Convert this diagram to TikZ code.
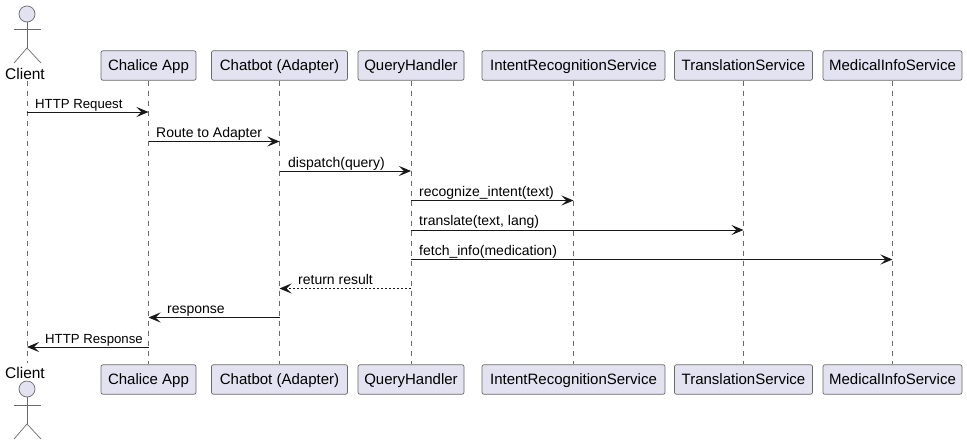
\documentclass[tikz,border=0pt]{standalone}
\usepackage{fontspec}
\usepackage{tikz}
\usetikzlibrary{arrows.meta}
\setmainfont{Liberation Sans}
\definecolor{partfill}{HTML}{E2E2F0}
\definecolor{partline}{HTML}{6A6A6A}
\definecolor{inkline}{HTML}{181818}
\tikzset{
	part/.style={draw=partline, fill=partfill, rounded corners=2pt, line width=0.7pt, minimum height=29.5pt, inner sep=0pt, text=black, text height=11pt, text depth=2pt, font=\fontsize{15}{18}\selectfont},
	lifeline/.style={draw=partline, line width=0.6pt, dash pattern=on 5pt off 5pt},
	msg/.style={draw=inkline, line width=0.9pt, -{Stealth[length=12pt,width=10pt,inset=5pt]}},
	msgback/.style={msg, dash pattern=on 2pt off 2pt},
	msgtext/.style={anchor=base west, inner sep=0pt, font=\fontsize{14}{16}\selectfont},
	msgcaps/.style={msgtext, font=\fontsize{13.2}{16}\selectfont},
	actorline/.style={draw=partline, line width=0.7pt},
	actortext/.style={inner sep=0pt, font=\fontsize{15.5}{18}\selectfont},
}
\begin{document}
\begin{tikzpicture}[x=1pt, y=-1pt]
	\useasboundingbox (0, 0) rectangle (967, 445);

	% top row
	\node[actortext] at (25, 73.5) (clienttop) {Client};
	\node[part, minimum width=95pt] at (148.5, 65.5) (chalicetop) {Chalice App};
	\node[part, minimum width=136pt] at (279.5, 65.5) (chatbottop) {Chatbot (Adapter)};
	\node[part, minimum width=106pt] at (411, 65.5) (querytop) {QueryHandler};
	\node[part, minimum width=183pt] at (573.5, 65.5) (intenttop) {IntentRecognitionService};
	\node[part, minimum width=138pt] at (743.5, 65.5) (translatetop) {TranslationService};
	\node[part, minimum width=139pt] at (892.5, 65.5) (medicaltop) {MedicalInfoService};

	% bottom row
	\node[actortext] at (25, 372.5) (clientbot) {Client};
	\node[part, minimum width=95pt] at (148.5, 379.5) (chalicebot) {Chalice App};
	\node[part, minimum width=136pt] at (279.5, 379.5) (chatbotbot) {Chatbot (Adapter)};
	\node[part, minimum width=106pt] at (411, 379.5) (querybot) {QueryHandler};
	\node[part, minimum width=183pt] at (573.5, 379.5) (intentbot) {IntentRecognitionService};
	\node[part, minimum width=138pt] at (743.5, 379.5) (translatebot) {TranslationService};
	\node[part, minimum width=139pt] at (892.5, 379.5) (medicalbot) {MedicalInfoService};

	% lifelines
	\coordinate (clientup) at (27, 81);
	\coordinate (clientdown) at (27, 363);
	\draw[lifeline] (clientup) -- (clientdown);
	\draw[lifeline] (chalicetop.south) -- (chalicebot.north);
	\draw[lifeline] (chatbottop.south) -- (chatbotbot.north);
	\draw[lifeline] (querytop.south) -- (querybot.north);
	\draw[lifeline] (intenttop.south) -- (intentbot.north);
	\draw[lifeline] (translatetop.south) -- (translatebot.north);
	\draw[lifeline] (medicaltop.south) -- (medicalbot.north);

	% actors
	\draw[actorline, fill=partfill] (27, 14) circle (8);
	\draw[actorline] (27, 22) -- (27, 48);
	\draw[actorline] (14, 29) -- (41, 29);
	\draw[actorline] (14, 63) -- (27, 48) -- (41, 63);
	\draw[actorline, fill=partfill] (27, 389) circle (8);
	\draw[actorline] (27, 397) -- (27, 424);
	\draw[actorline] (14, 405) -- (41, 405);
	\draw[actorline] (14, 439) -- (27, 424) -- (41, 439);

	% messages
	\draw[msg] (clientup |- 0, 112) -- (chalicetop |- 0, 112);
	\node[msgcaps] at (35, 108) (m1) {HTTP Request};
	\draw[msg] (chalicetop |- 0, 141.5) -- (chatbottop |- 0, 141.5);
	\node[msgtext] at (156, 137) (m2) {Route to Adapter};
	\draw[msg] (chatbottop |- 0, 171) -- (querytop |- 0, 171);
	\node[msgtext] at (288, 167) (m3) {dispatch(query)};
	\draw[msg] (querytop |- 0, 200.5) -- (intenttop |- 0, 200.5);
	\node[msgtext] at (419, 196) (m4) {recognize\_intent(text)};
	\draw[msg] (querytop |- 0, 230) -- (translatetop |- 0, 230);
	\node[msgtext] at (419, 225) (m5) {translate(text, lang)};
	\draw[msg] (querytop |- 0, 259.5) -- (medicaltop |- 0, 259.5);
	\node[msgtext] at (419, 255) (m6) {fetch\_info(medication)};
	\draw[msgback] (querytop |- 0, 288.5) -- (chatbottop |- 0, 288.5);
	\node[msgtext] at (298, 284) (m7) {return result};
	\draw[msg] (chatbottop |- 0, 317.5) -- (chalicetop |- 0, 317.5);
	\node[msgtext] at (167, 313) (m8) {response};
	\draw[msg] (chalicetop |- 0, 347) -- (clientdown |- 0, 347);
	\node[msgcaps] at (45, 343) (m9) {HTTP Response};
\end{tikzpicture}
\end{document}
